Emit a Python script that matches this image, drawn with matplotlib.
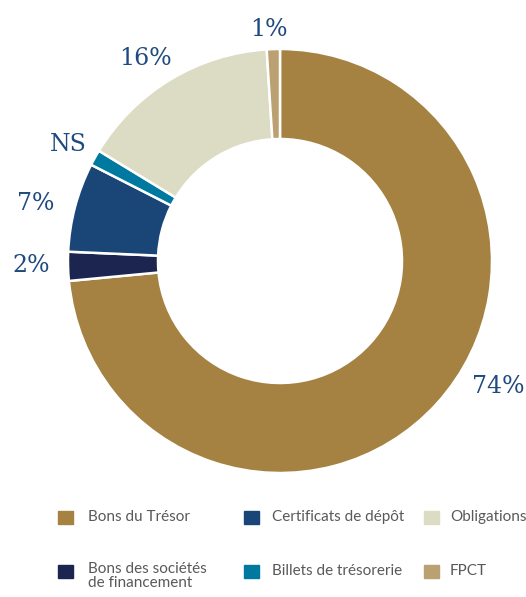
import matplotlib.pyplot as plt
from matplotlib.patches import Rectangle

categories = [
    "Bons du Trésor",
    "Bons des sociétés\nde financement",
    "Certificats de dépôt",
    "Billets de trésorerie",
    "Obligations",
    "FPCT",
]
shares = [73.5, 2.2, 6.8, 1.2, 15.3, 1.0]
labels = ["74%", "2%", "7%", "NS", "16%", "1%"]
colors = ["#A58242", "#1B2550", "#1A4677", "#0079A0", "#DCDBC3", "#BBA072"]

# label anchor points in pie data coords
label_xy = [(0.99, -0.57), (-1.13, -0.02), (-1.11, 0.26), (-0.96, 0.53), (-0.61, 0.92), (-0.05, 1.05)]

W, H = 526, 597
fig = plt.figure(figsize=(W / 100, H / 100), dpi=100)

cx, cy, half = 280, 261, 220
ax = fig.add_axes([(cx - half) / W, (H - cy - half) / H, 2 * half / W, 2 * half / H])
outer = 212 / half
ax.pie(
    shares,
    colors=colors,
    startangle=90,
    counterclock=False,
    radius=outer,
    wedgeprops=dict(width=outer * 90 / 212, edgecolor="white", linewidth=1.8),
)
ax.set_xlim(-1, 1)
ax.set_ylim(-1, 1)
ax.set_aspect("equal")

for (x, y), text in zip(label_xy, labels):
    ax.text(x, y, text, ha="center", va="center", fontsize=17,
            family="DejaVu Serif", color="#1F4A80", clip_on=False)

# legend, 3 columns filled top to bottom
col_x = [58, 244, 424]
text_x = [88, 272, 450]
row_y = [517, 571]
for i, (name, c) in enumerate(zip(categories, colors)):
    col, row = divmod(i, 2)
    mx, my = col_x[col], row_y[row]
    fig.patches.append(Rectangle((mx / W, (H - my - 6.5) / H), 15 / W, 13 / H,
                                 transform=fig.transFigure, color=c))
    if "\n" in name:
        fig.text(text_x[col] / W, (H - my + 9) / H, name, ha="left", va="top",
                 fontsize=11, family="Lato", color="#595959", linespacing=1.0)
    else:
        fig.text(text_x[col] / W, (H - my) / H, name, ha="left", va="center",
                 fontsize=11, family="Lato", color="#595959")

fig.savefig("out.png", dpi=100)
